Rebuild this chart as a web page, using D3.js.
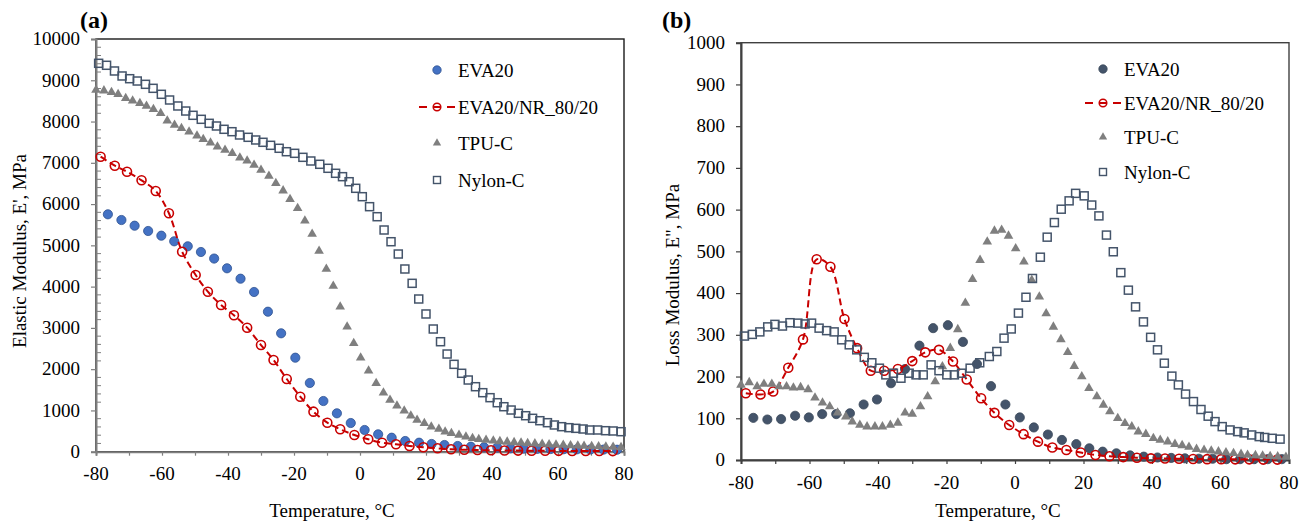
<!DOCTYPE html>
<html>
<head>
<meta charset="utf-8">
<script src="https://cdn.jsdelivr.net/npm/d3@7"></script>
<style>
  body { margin: 0; background: #fff; }
  svg { display: block; font-family: "Liberation Serif", "Times New Roman", serif; }
</style>
</head>
<body>
<svg id="chart" width="1309" height="521"></svg>
<script>
const tempEVA = [-76.4, -72.3, -68.3, -64.2, -60.2, -56.3, -52.2, -48.2, -44.2, -40.3,
  -36.2, -32.1, -27.9, -23.9, -19.6, -15.2, -11.1, -7, -2.8, 1.4,
  5.5, 9.6, 13.7, 17.9, 21.7, 25.6, 29.6, 33.6, 37.6, 41.6,
  45.6, 49.6, 53.7, 57.7, 61.7, 65.7, 69.8, 73.8, 77.9];
const tempNR = [-78.6, -74.3, -70.6, -66.2, -61.9, -57.9, -53.9, -49.8, -46.1, -42.1,
  -38.2, -34.2, -30, -26.2, -22.2, -18.1, -14.1, -9.9, -6, -1.7,
  2.5, 6.7, 10.9, 15, 19.2, 23.5, 27.6, 31.6, 35.6, 39.7,
  43.8, 47.9, 52, 56.1, 60.2, 64.3, 68.4, 72.5, 76.6];
const tempTPU = [-80, -77.6, -75.3, -73.3, -71, -68.9, -66.7, -64.7, -62.6, -60.4,
  -58.4, -56.2, -54.1, -51.8, -49.4, -47.5, -45.3, -43.2, -40.9, -38.7,
  -36.4, -34.2, -32.1, -30, -27.6, -25.5, -23.3, -21.2, -18.9, -16.7,
  -14.5, -12.4, -10.2, -8.1, -6, -3.9, -1.9, 0.2, 2.6, 4.9,
  7.1, 9.1, 11.2, 13.4, 15.4, 17.3, 19.5, 21.6, 23.9, 25.8,
  27.7, 30, 32.1, 34.1, 36, 38.2, 40.4, 42.4, 44.6, 46.7,
  48.8, 50.8, 53, 55.2, 57.3, 59.4, 61.6, 63.8, 66, 67.9,
  70.2, 72.3, 74.5, 76.7, 79.1];
const tempNylonA = [-79.2, -76.8, -74.4, -72.1, -69.8, -67.5, -65, -62.7, -60.2, -57.7,
  -55.2, -52.8, -50.6, -48.1, -45.7, -43.5, -41.2, -38.8, -36.5, -33.9,
  -31.6, -29.4, -27.1, -24.5, -22.3, -19.8, -17.3, -14.9, -12.2, -9.7,
  -7.4, -5.3, -3.3, -1.3, 0.7, 2.9, 5.2, 7.3, 9.4, 11.6,
  13.6, 15.8, 17.8, 20, 22.2, 24.4, 26.4, 28.5, 30.8, 32.8,
  35, 37.2, 39.4, 41.6, 43.6, 45.8, 48, 50.2, 52.3, 54.5,
  56.8, 58.9, 61.1, 63.3, 65.4, 67.6, 69.6, 72, 74.4, 76.7, 79.1];
const tempNylonB = [-79, -76.7, -74.5, -72.2, -70.1, -67.9, -65.7, -63.4, -61.3, -59.4,
  -57.2, -55, -52.8, -50.6, -48.4, -46.2, -44, -41.8, -39.6, -37.7,
  -35.5, -33.3, -30.9, -28.9, -26.8, -24.5, -22.2, -19.9, -17.7, -15.6,
  -13.1, -10.3, -7.5, -5.3, -3.2, -1.1, 1, 3.2, 5.1, 7.4,
  9.4, 11.5, 13.5, 15.8, 17.7, 20.2, 22.4, 24.5, 26.7, 28.7,
  30.9, 33.1, 35.2, 37.5, 39.6, 41.6, 43.6, 45.8, 47.7, 49.8,
  52.1, 54.3, 56.4, 58.4, 60.5, 62.8, 65, 66.9, 69.1, 71.3,
  72.9, 75.1, 77.4];

// --- (a) Elastic modulus E', MPa ---
const evaE1 = [5752, 5614, 5476, 5348, 5234, 5098, 4977, 4839, 4680, 4444,
  4192, 3870, 3392, 2869, 2278, 1665, 1228, 930, 695, 526,
  421, 339, 259, 218, 187, 162, 138, 121, 107, 100,
  82, 75, 70, 65, 60, 57, 54, 51, 48];
const nrE1 = [7148, 6930, 6785, 6576, 6317, 5777, 4846, 4282, 3877, 3555,
  3305, 3005, 2585, 2222, 1762, 1333, 970, 703, 543, 405,
  300, 218, 179, 138, 107, 82, 58, 48, 40, 35,
  30, 27, 24, 22, 20, 18, 17, 16, 15];
const tpuE1 = [8764, 8748, 8708, 8660, 8563, 8505, 8442, 8377, 8297, 8200,
  8020, 7916, 7836, 7754, 7657, 7569, 7487, 7390, 7310, 7230,
  7124, 7051, 6947, 6826, 6680, 6504, 6325, 6116, 5898, 5597,
  5275, 4863, 4427, 4015, 3514, 3029, 2627, 2278, 1963, 1657,
  1430, 1253, 1115, 993, 872, 768, 688, 606, 550, 485,
  446, 404, 363, 325, 300, 283, 267, 250, 238, 226,
  215, 205, 195, 185, 176, 168, 160, 152, 145, 138,
  131, 124, 118, 112, 105];
const nylonE1 = [9411, 9363, 9225, 9104, 9038, 8982, 8902, 8805, 8660, 8522,
  8377, 8255, 8151, 8054, 7957, 7892, 7812, 7754, 7674, 7618,
  7553, 7497, 7424, 7352, 7269, 7230, 7133, 7044, 6964, 6867,
  6746, 6664, 6542, 6382, 6179, 5937, 5694, 5372, 5088, 4790,
  4427, 4080, 3700, 3337, 2973, 2665, 2367, 2117, 1900, 1737,
  1575, 1430, 1309, 1187, 1090, 1010, 930, 872, 809, 751,
  703, 647, 606, 582, 566, 550, 526, 526, 509, 502, 485];

// --- (b) Loss modulus E", MPa ---
const evaE2 = [101, 97, 98, 106, 102, 110, 110, 112, 133, 145,
  184, 218, 274, 316, 323, 283, 230, 177, 133, 102,
  78, 61, 48, 38, 28, 20, 16, 11, 8, 6,
  5, 4, 3, 3, 2, 2, 2, 2, 2];
const nrE2 = [160, 157, 164, 221, 289, 481, 463, 338, 268, 214,
  214, 218, 237, 258, 264, 236, 193, 148, 113, 84,
  62, 44, 30, 24, 18, 12, 9, 7, 5.5, 4,
  3.5, 3, 2.5, 2, 2, 1.5, 1.5, 1, 1];
const tpuE2 = [180, 186, 176, 182, 182, 176, 176, 173, 174, 169,
  149, 137, 128, 113, 104, 92, 84, 80, 80, 80,
  84, 89, 113, 110, 128, 152, 188, 224, 268, 313,
  376, 433, 479, 523, 549, 551, 537, 507, 475, 431,
  391, 351, 319, 289, 258, 225, 200, 172, 152, 132,
  116, 100, 88, 80, 68, 62, 52, 48, 44, 38,
  35, 31, 26, 24, 22, 20, 18, 16, 14, 12,
  11, 10, 9, 8, 7];
const nylonE2 = [297, 301, 307, 319, 325, 321, 329, 328, 326, 328,
  316, 310, 307, 288, 276, 264, 246, 233, 220, 204,
  208, 196, 208, 204, 204, 228, 214, 204, 204, 208,
  220, 233, 248, 260, 292, 314, 352, 390, 435, 486,
  534, 569, 601, 621, 639, 633, 611, 585, 539, 499,
  449, 407, 367, 331, 294, 264, 232, 201, 180, 158,
  140, 121, 105, 92, 80, 72, 68, 65, 60, 56,
  54, 52, 50];

const seriesNames = ['EVA20', 'EVA20/NR_80/20', 'TPU-C', 'Nylon-C'];
const xTickLabels = [-80, -60, -40, -20, 0, 20, 40, 60, 80];
const yTicksA = [0, 1000, 2000, 3000, 4000, 5000, 6000, 7000, 8000, 9000, 10000];
const yTicksB = [0, 100, 200, 300, 400, 500, 600, 700, 800, 900, 1000];

const RED = '#C80000';
const GRAY = '#7F7F7F';
const SLATE = '#44546A';
const zip = (xs, ys) => xs.map((t, i) => ({ t, v: ys[i] }));

const svg = d3.select('#chart');

function drawPanel(p) {
  const g = svg.append('g');
  const x = d3.scaleLinear().domain([-80, 80]).range([p.left, p.right]);
  const y = d3.scaleLinear().domain([0, p.yMax]).range([p.bottom, p.top]);

  // plot frame
  g.append('rect')
    .attr('x', p.left).attr('y', p.top)
    .attr('width', p.right - p.left).attr('height', p.bottom - p.top)
    .attr('fill', 'none').attr('stroke', p.frame).attr('stroke-width', 1.4);

  // axes: lines and ticks from d3, labels drawn as plain serif text below
  const xAxis = g.append('g')
    .attr('transform', `translate(0,${p.bottom})`)
    .call(d3.axisBottom(x).tickValues(d3.range(-80, 81, 10)).tickSize(4).tickFormat(''));
  const yAxis = g.append('g')
    .attr('transform', `translate(${p.left},0)`)
    .call(d3.axisLeft(y).tickValues(p.yTicks).tickSize(5).tickFormat(''));
  [xAxis, yAxis].forEach(a => {
    a.select('.domain').attr('stroke', p.axis).attr('stroke-width', 2);
    a.selectAll('.tick line').attr('stroke', p.axis).attr('stroke-width', 1.2);
    a.selectAll('.tick text').remove();
  });

  g.append('g').selectAll('text').data(xTickLabels).join('text')
    .attr('x', d => x(d)).attr('y', p.bottom + 28.5)
    .attr('text-anchor', 'middle').attr('font-size', 19)
    .text(d => String(d));
  g.append('g').selectAll('text').data(p.yTicks).join('text')
    .attr('x', p.left - 16).attr('y', d => y(d) + 6.3)
    .attr('text-anchor', 'end').attr('font-size', 19)
    .text(d => String(d));

  // minor ticks inside (panel a only)
  if (p.minorStep) {
    const minor = d3.range(0, p.yMax, p.minorStep).filter(v => v % p.yTicks[1] !== 0);
    g.append('g').selectAll('line').data(minor).join('line')
      .attr('x1', p.left).attr('x2', p.left + 5)
      .attr('y1', d => y(d)).attr('y2', d => y(d))
      .attr('stroke', p.axis).attr('stroke-width', 1);
  }

  // EVA20 filled circles
  g.append('g').selectAll('circle').data(zip(tempEVA, p.eva)).join('circle')
    .attr('cx', d => x(d.t)).attr('cy', d => y(d.v)).attr('r', 4.6)
    .attr('fill', p.evaFill).attr('stroke', p.evaStroke).attr('stroke-width', 0.8);

  // EVA20/NR smoothed dashed line + open circles
  const nr = zip(tempNR, p.nr);
  g.append('path').datum(nr)
    .attr('d', d3.line().x(d => x(d.t)).y(d => y(d.v)).curve(d3.curveCatmullRom))
    .attr('fill', 'none').attr('stroke', RED).attr('stroke-width', 2)
    .attr('stroke-dasharray', '7,4');
  g.append('g').selectAll('circle').data(nr).join('circle')
    .attr('cx', d => x(d.t)).attr('cy', d => y(d.v)).attr('r', 4.5)
    .attr('fill', 'none').attr('stroke', RED).attr('stroke-width', 1.6);

  // TPU-C triangles
  const tri = d3.symbol().type(d3.symbolTriangle).size(40);
  g.append('g').selectAll('path').data(zip(tempTPU, p.tpu)).join('path')
    .attr('d', tri)
    .attr('transform', d => `translate(${x(d.t)},${y(d.v)})`)
    .attr('fill', GRAY);

  // Nylon-C open squares
  g.append('g').selectAll('rect').data(zip(p.nylonT, p.nylon)).join('rect')
    .attr('x', d => x(d.t) - 4).attr('y', d => y(d.v) - 4)
    .attr('width', 8).attr('height', 8)
    .attr('fill', 'none').attr('stroke', SLATE).attr('stroke-width', 1.5);

  // legend
  const lg = g.append('g');
  p.legendY.forEach((ly, i) => {
    const mx = p.legendX;
    if (i === 0) {
      lg.append('circle').attr('cx', mx).attr('cy', ly).attr('r', 4.2)
        .attr('fill', p.evaFill).attr('stroke', p.evaStroke).attr('stroke-width', 0.8);
    } else if (i === 1) {
      lg.append('line').attr('x1', mx - 18).attr('x2', mx + 18)
        .attr('y1', ly).attr('y2', ly)
        .attr('stroke', RED).attr('stroke-width', 2).attr('stroke-dasharray', '8,6');
      lg.append('circle').attr('cx', mx).attr('cy', ly).attr('r', 3.8)
        .attr('fill', 'none').attr('stroke', RED).attr('stroke-width', 1.5);
    } else if (i === 2) {
      lg.append('path').attr('d', d3.symbol().type(d3.symbolTriangle).size(30))
        .attr('transform', `translate(${mx},${ly})`).attr('fill', GRAY);
    } else {
      lg.append('rect').attr('x', mx - 3.5).attr('y', ly - 3.5)
        .attr('width', 7).attr('height', 7)
        .attr('fill', 'none').attr('stroke', SLATE).attr('stroke-width', 1.4);
    }
    lg.append('text').attr('x', mx + 21).attr('y', ly + 6.5)
      .attr('font-size', 19).text(seriesNames[i]);
  });

  // axis titles and panel letter
  g.append('text')
    .attr('transform', `translate(${p.yTitleX},${p.yTitleY}) rotate(-90)`)
    .attr('text-anchor', 'middle').attr('font-size', 19).text(p.yTitle);
  g.append('text')
    .attr('x', p.xTitleX).attr('y', 517)
    .attr('text-anchor', 'middle').attr('font-size', 19).text('Temperature, °C');
  g.append('text')
    .attr('x', p.letterX).attr('y', 28)
    .attr('font-size', 24).attr('font-weight', 'bold').text(p.letter);
}

drawPanel({
  left: 96, right: 624, top: 39, bottom: 451.7, yMax: 10000,
  yTicks: yTicksA, minorStep: 200,
  frame: '#1a1a1a', axis: '#7F7F7F',
  eva: evaE1, nr: nrE1, tpu: tpuE1, nylon: nylonE1, nylonT: tempNylonA,
  evaFill: '#4472C4', evaStroke: '#2F528F',
  legendX: 437, legendY: [70, 107, 143, 180],
  yTitle: "Elastic Modulus, E', MPa", yTitleX: 26, yTitleY: 251,
  xTitleX: 332, letter: '(a)', letterX: 80
});

drawPanel({
  left: 741, right: 1289, top: 42.7, bottom: 460, yMax: 1000,
  yTicks: yTicksB, minorStep: 0,
  frame: '#404040', axis: '#404040',
  eva: evaE2, nr: nrE2, tpu: tpuE2, nylon: nylonE2, nylonT: tempNylonB,
  evaFill: '#44546A', evaStroke: '#3a4759',
  legendX: 1103, legendY: [69, 103, 137, 172],
  yTitle: 'Loss Modulus, E", MPa', yTitleX: 679, yTitleY: 275,
  xTitleX: 998, letter: '(b)', letterX: 662
});
</script>
</body>
</html>
